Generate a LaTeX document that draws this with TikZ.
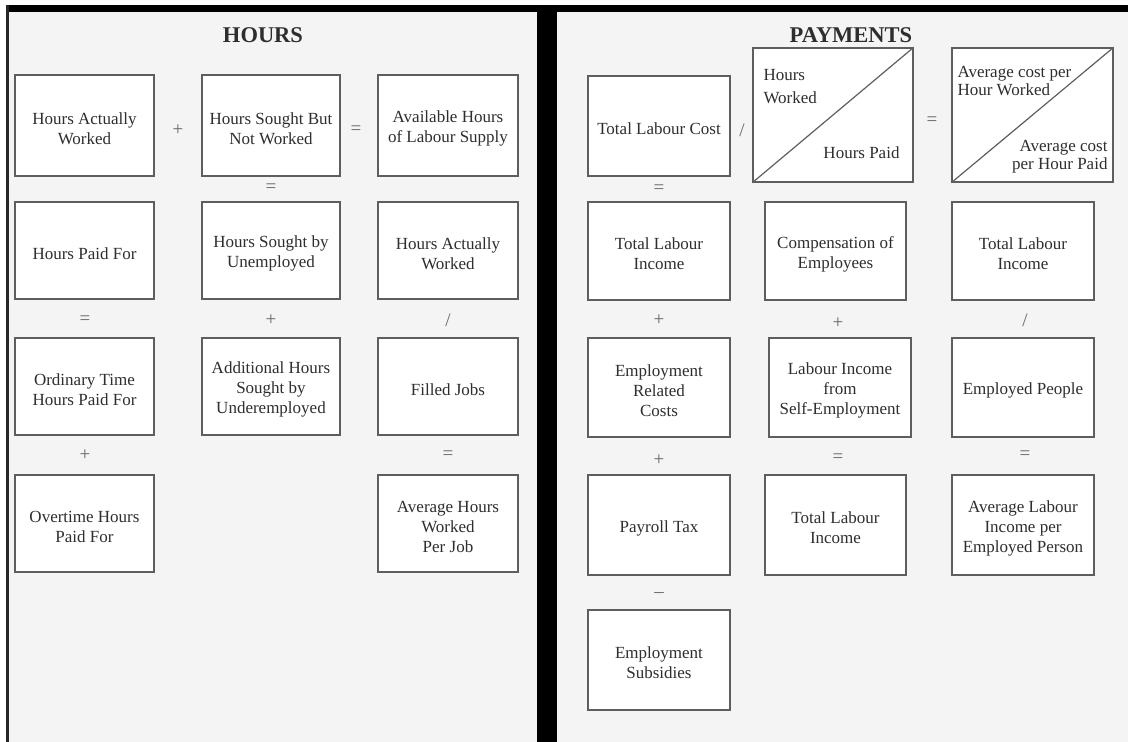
\documentclass[tikz,border=0pt]{standalone}
\usepackage{fontspec}
\setmainfont{Liberation Serif}
\usetikzlibrary{calc}
\definecolor{panelbg}{HTML}{F4F4F4}
\definecolor{boxline}{HTML}{5E5E5E}
\definecolor{txt}{HTML}{2E2E2E}
\definecolor{opc}{HTML}{666666}
\newcommand\bxstrut{\rule{0pt}{18pt}}
\tikzset{
  bx/.style={draw=boxline, line width=1.4pt, fill=white, align=center, text=txt,
    font=\fontsize{17}{20}\selectfont, inner sep=2pt},
  op/.style={text=opc, font=\fontsize{19}{20}\selectfont, inner sep=0pt},
  ttl/.style={text=txt, font=\fontsize{22.5}{26}\selectfont\bfseries},
  dtxt/.style={text=txt, font=\fontsize{17}{18}\selectfont, inner sep=0pt},
}
\begin{document}
\begin{tikzpicture}[x=1pt,y=-1pt]
\useasboundingbox (0,0) rectangle (1128,742);
\fill[white] (0,0) rectangle (1128,742);
\fill[panelbg] (7,5) rectangle (1128,742);
% frame
\fill[black] (6,5) rectangle (1128,12);
\fill[black!85] (6,5) rectangle (8.5,742);
\fill[black] (537,5) rectangle (557,742);
% titles
\node[ttl] (th) at (263,35) {HOURS};
\node[ttl] (tp) at (851,35) {PAYMENTS};
% ---------- HOURS ----------
\node[bx, minimum width=139, minimum height=101] (L11) at (84.5,125.5) {\bxstrut Hours Actually\\Worked};
\node[bx, minimum width=138, minimum height=101] (L12) at (271,125.5) {\bxstrut Hours Sought But\\Not Worked};
\node[bx, minimum width=140, minimum height=101] (L13) at (448,125.5) {\bxstrut Available Hours\\of Labour Supply};
\node[bx, minimum width=139, minimum height=97] (L21) at (84.5,250.5) {\bxstrut Hours Paid For};
\node[bx, minimum width=138, minimum height=97] (L22) at (271,250.5) {\bxstrut Hours Sought by\\Unemployed};
\node[bx, minimum width=140, minimum height=97] (L23) at (448,250.5) {\bxstrut Hours Actually\\Worked};
\node[bx, minimum width=139, minimum height=97] (L31) at (84.5,386.5) {\bxstrut Ordinary Time\\Hours Paid For};
\node[bx, minimum width=138, minimum height=97] (L32) at (271,386.5) {\bxstrut Additional Hours\\Sought by\\Underemployed};
\node[bx, minimum width=140, minimum height=97] (L33) at (448,386.5) {\bxstrut Filled Jobs};
\node[bx, minimum width=139, minimum height=97] (L41) at (84.5,523.5) {\bxstrut Overtime Hours\\Paid For};
\node[bx, minimum width=140, minimum height=97] (L43) at (448,523.5) {\bxstrut Average Hours\\Worked\\Per Job};
% operators
\node[op] (o1) at (178,130) {+};
\node[op] (o2) at (356,130) {=};
\node[op] (o3) at (271,188) {=};
\node[op] (o4) at (85,320) {=};
\node[op] (o5) at (271,320) {+};
\node[op] (o6) at (448,320) {/};
\node[op] (o7) at (85,455) {+};
\node[op] (o8) at (448,455) {=};
% ---------- PAYMENTS ----------
\node[bx, minimum width=142, minimum height=100] (R11) at (659,126) {\bxstrut Total Labour Cost};
\node[bx, minimum width=160, minimum height=134] (R12) at (833,115) {};
\draw[boxline, line width=1.2pt] (R12.south west) -- (R12.north east);
\node[dtxt, anchor=north west, align=left] (R12a) at ($(R12.north west)+(11,22)$) {Hours\\[5pt]Worked};
\node[dtxt, anchor=south east, align=right] (R12b) at ($(R12.south east)+(-14,-24)$) {Hours Paid};
\node[bx, minimum width=161, minimum height=134] (R13) at (1032.5,115) {};
\draw[boxline, line width=1.2pt] (R13.south west) -- (R13.north east);
\node[dtxt, anchor=north west, align=left] (R13a) at ($(R13.north west)+(6,19)$) {Average cost per\\Hour Worked};
\node[dtxt, anchor=south east, align=right] (R13b) at ($(R13.south east)+(-6,-9)$) {Average cost\\per Hour Paid};
\node[bx, minimum width=142, minimum height=98] (R21) at (659,251) {\bxstrut Total Labour\\Income};
\node[bx, minimum width=141, minimum height=98] (R22) at (835.5,251) {\bxstrut Compensation of\\Employees};
\node[bx, minimum width=142, minimum height=98] (R23) at (1023,251) {\bxstrut Total Labour\\Income};
\node[bx, minimum width=142, minimum height=99] (R31) at (659,387.5) {\bxstrut Employment\\Related\\Costs};
\node[bx, minimum width=142, minimum height=99] (R32) at (840,387.5) {\bxstrut Labour Income\\from\\Self-Employment};
\node[bx, minimum width=142, minimum height=99] (R33) at (1023,387.5) {\bxstrut Employed People};
\node[bx, minimum width=142, minimum height=100] (R41) at (659,525) {\bxstrut Payroll Tax};
\node[bx, minimum width=141, minimum height=100] (R42) at (835.5,525) {\bxstrut Total Labour\\Income};
\node[bx, minimum width=142, minimum height=100] (R43) at (1023,525) {\bxstrut Average Labour\\Income per\\Employed Person};
\node[bx, minimum width=142, minimum height=100] (R51) at (659,660) {\bxstrut Employment\\Subsidies};
% operators
\node[op] (p1) at (742,130) {/};
\node[op] (p2) at (932,121) {=};
\node[op] (p3) at (659,189) {=};
\node[op] (p4) at (659,320) {+};
\node[op] (p5) at (838,323) {+};
\node[op] (p6) at (1025,320) {/};
\node[op] (p7) at (659,460) {+};
\node[op] (p8) at (838,458) {=};
\node[op] (p9) at (1025,455) {=};
\node[op] (p10) at (659,595) {–};
\end{tikzpicture}
\end{document}
